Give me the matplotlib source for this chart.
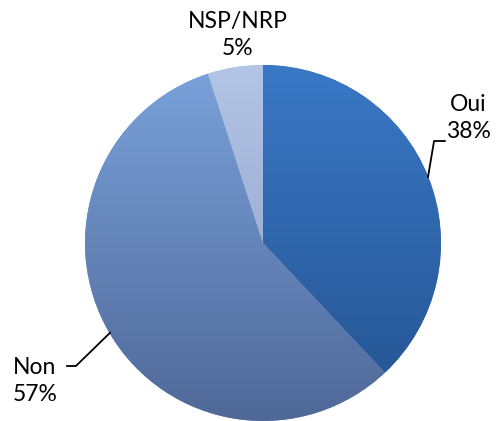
import matplotlib
matplotlib.use("Agg")
import matplotlib.pyplot as plt
import numpy as np
from matplotlib.colors import LinearSegmentedColormap

labels = ["Oui", "Non", "NSP/NRP"]
values = [38, 57, 5]
top_colors = ["#3a78c6", "#7aa2db", "#b2c5e6"]
bottom_colors = ["#245390", "#4f6898", "#8a9cc4"]

W, H = 498, 421
fig = plt.figure(figsize=(W / 100, H / 100), dpi=100)
cx, cy, r = 263, 243, 178
ax = fig.add_axes([(cx - r) / W, (H - cy - r) / H, 2 * r / W, 2 * r / H])
ax.set_axis_off()

wedges, _ = ax.pie(values, startangle=90, counterclock=False, radius=1,
                   colors=top_colors, wedgeprops=dict(linewidth=0))
grad = np.linspace(1, 0, 256).reshape(-1, 1)
for w, ct, cb in zip(wedges, top_colors, bottom_colors):
    cmap = LinearSegmentedColormap.from_list("g", [cb, ct])
    im = ax.imshow(grad, cmap=cmap, extent=[-1, 1, -1, 1], aspect="auto",
                   origin="upper", zorder=2)
    im.set_clip_path(w)
ax.set_xlim(-1, 1)
ax.set_ylim(-1, 1)

fs = 16.5
font = "Lato"
ls = 1.35
# Oui
ax.plot([0.927, 0.961, 1.022], [0.371, 0.573, 0.573], color="black", lw=1.3,
        clip_on=False, zorder=3)
ax.text(1.155, 0.70, "Oui\n38%", ha="center", va="center", fontsize=fs,
        family=font, linespacing=ls, clip_on=False)
# Non
ax.plot([-0.860, -1.051, -1.101], [-0.505, -0.691, -0.691], color="black", lw=1.3,
        clip_on=False, zorder=3)
ax.text(-1.404, -0.775, "Non\n57%", ha="left", va="center", fontsize=fs,
        family=font, linespacing=ls, clip_on=False)
# NSP/NRP
ax.text(-0.14, 1.17, "NSP/NRP\n5%", ha="center", va="center", fontsize=fs,
        family=font, linespacing=ls, clip_on=False)

fig.savefig("out.png", dpi=100)
